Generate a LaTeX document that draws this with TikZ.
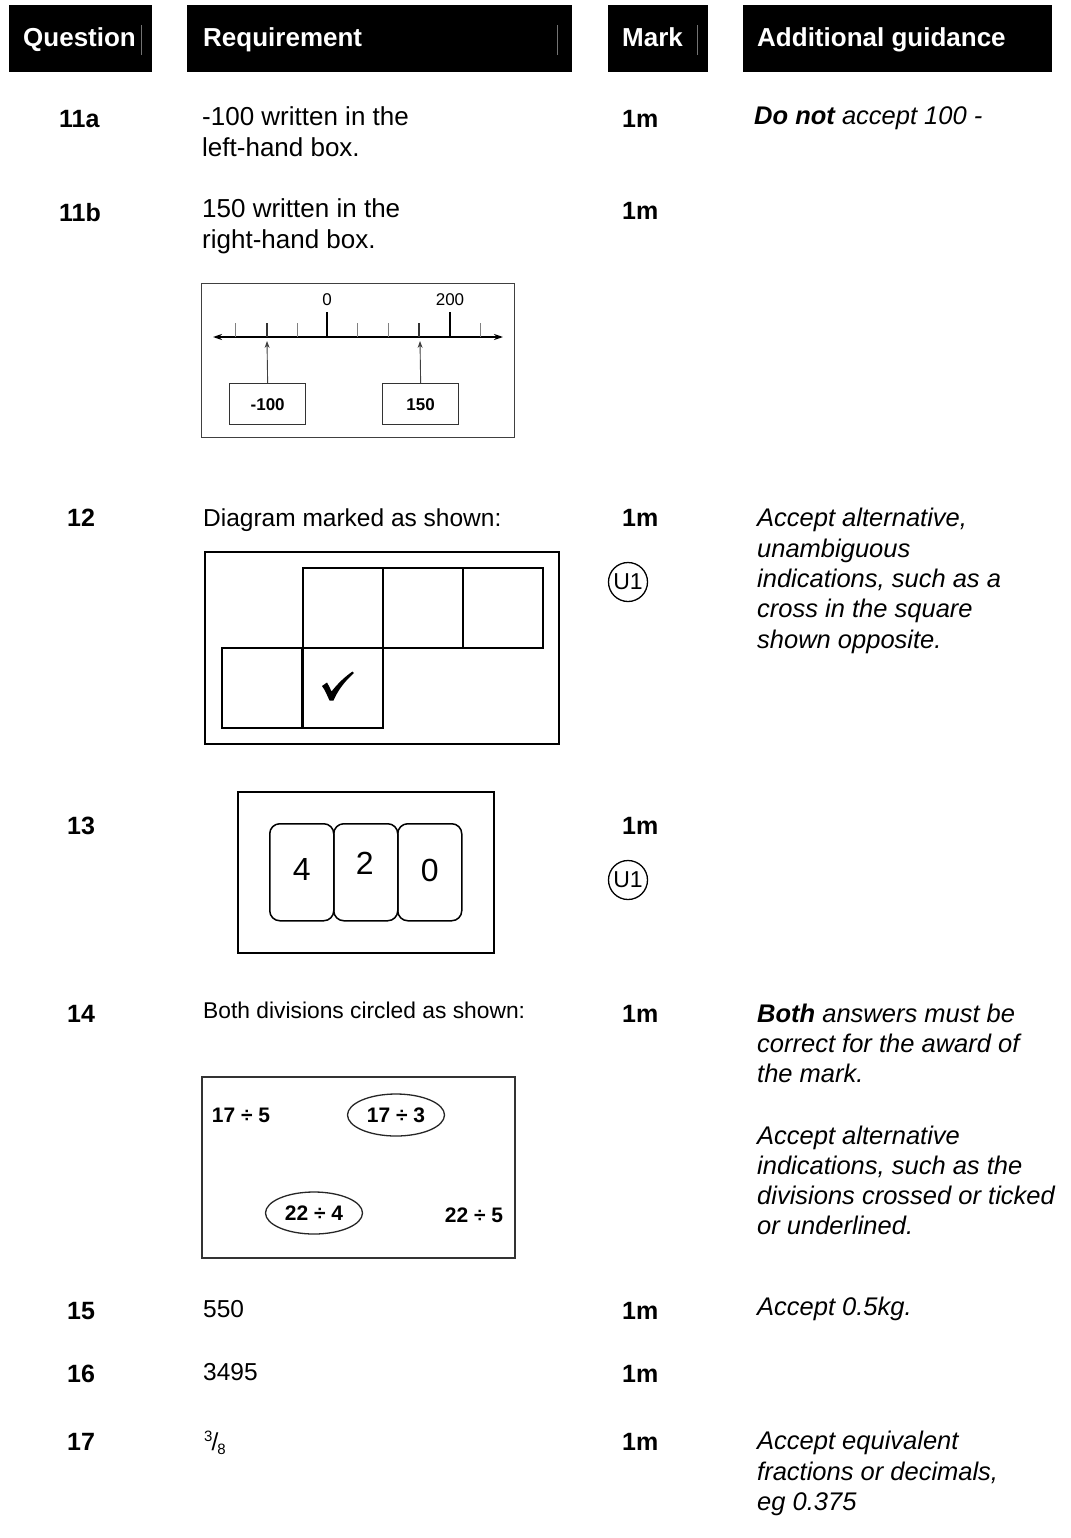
\documentclass[tikz,border=0pt]{standalone}
\usepackage{fontspec}
\setmainfont{Liberation Sans}
\usetikzlibrary{arrows.meta,shapes.geometric}
\begin{document}
\begin{tikzpicture}[x=1pt,y=-1pt,
  hbox/.style={fill=black, draw=none, inner sep=0, anchor=north west, minimum height=67},
  htext/.style={text=white, font=\bfseries\fontsize{26}{30}\selectfont, anchor=base west, inner sep=0},
  qnum/.style={font=\bfseries\fontsize{25}{30}\selectfont, anchor=base west, inner sep=0},
  body/.style={font=\fontsize{24.5}{30}\selectfont, anchor=base west, inner sep=0},
  guide/.style={font=\itshape\fontsize{25.5}{30}\selectfont, anchor=base west, inner sep=0},
  markt/.style={font=\bfseries\fontsize{25}{30}\selectfont, anchor=base west, inner sep=0},
  ucirc/.style={circle, draw, line width=1.3, minimum size=39, inner sep=0, font=\fontsize{23}{23}\selectfont},
  sq/.style={draw, line width=1.8, minimum size=80, inner sep=0, anchor=north west},
  card/.style={draw, line width=1.5, rounded corners=10, minimum width=64, minimum height=97, inner sep=0, anchor=north west},
  digit/.style={font=\fontsize{32}{32}\selectfont, inner sep=0},
  nlbox/.style={draw=black!80, line width=1.3, inner sep=0, anchor=north west, minimum width=62, minimum height=41, font=\bfseries\fontsize{17}{17}\selectfont},
  divt/.style={font=\bfseries\fontsize{21}{21}\selectfont, inner sep=0},
  divell/.style={ellipse, draw=black!85, line width=1.3, minimum width=97, minimum height=42, inner sep=0, font=\bfseries\fontsize{21}{21}\selectfont}
]
\useasboundingbox (0,0) rectangle (1070,1538);
\fill[white] (0,0) rectangle (1070,1538);

% header
\node[hbox, minimum width=143] (hq) at (9,5) {};
\node[hbox, minimum width=385] (hr) at (187,5) {};
\node[hbox, minimum width=100] (hm) at (608,5) {};
\node[hbox, minimum width=309] (ha) at (743,5) {};
\draw[black!55, line width=0.8] (hq.north west) ++(132,20) coordinate (lq1) -- ++(0,30) coordinate (lq2);
\draw[black!55, line width=0.8] (hr.north west) ++(370,20) coordinate (lr1) -- ++(0,30) coordinate (lr2);
\draw[black!55, line width=0.8] (hm.north west) ++(89,20) coordinate (lm1) -- ++(0,30) coordinate (lm2);
\node[htext] (tq) at (23,47) {Question};
\node[htext] (tr) at (203,47) {Requirement};
\node[htext] (tm) at (622,47) {Mark};
\node[htext] (ta) at (757,47) {Additional guidance};

% row 11a
\node[qnum] (n11a) at (59,128) {11a};
\node[body, font=\fontsize{26}{30}\selectfont] (r11a1) at (202,126) {-100 written in the};
\node[body, font=\fontsize{26}{30}\selectfont] (r11a2) at (202,157) {left-hand box.};
\node[markt] (m11a) at (622,128) {1m};
\node[guide] (g11a) at (754,125) {\textbf{Do not} accept 100 -};

% row 11b
\node[qnum] (n11b) at (59,222) {11b};
\node[body, font=\fontsize{26}{30}\selectfont] (r11b1) at (202,218) {150 written in the};
\node[body, font=\fontsize{26}{30}\selectfont] (r11b2) at (202,249) {right-hand box.};
\node[markt] (m11b) at (622,220) {1m};

% number line
\node[draw=black!75, line width=1.3, minimum width=313, minimum height=154, inner sep=0, anchor=north west] (nlframe) at (201,283) {};
\coordinate (axl) at (213,337);
\coordinate (axr) at (503,337);
\draw[line width=1.5, {Stealth[length=9,width=6]}-{Stealth[length=9,width=6]}] (axl) -- (axr);
\foreach \tx in {235,297,357,388,480} {
  \draw[black!50, line width=1] (\tx,323) -- (\tx,337);
}
\foreach \tx in {267,419} {
  \draw[black!80, line width=1.2] (\tx,323) -- (\tx,337);
}
\draw[line width=1.6] (327,312) coordinate (t0) -- (327,337);
\draw[line width=1.6] (450,312) coordinate (t200) -- (450,337);
\node[font=\fontsize{17}{17}\selectfont, inner sep=0] (l0) at (327,300) {0};
\node[font=\fontsize{17}{17}\selectfont, inner sep=0] (l200) at (450,300) {200};
\node[nlbox, minimum width=76] (bm100) at (229,383) {-100};
\node[nlbox, minimum width=76] (b150) at (382,383) {150};
\coordinate (p1) at (267,341);
\coordinate (p2) at (420,341);
\draw[black!75, line width=0.9, -{Stealth[length=7,width=5]}] (bm100.north) -- (p1);
\draw[black!75, line width=0.9, -{Stealth[length=7,width=5]}] (b150.north) -- (p2);

% row 12
\node[qnum] (n12) at (67,526) {12};
\node[body] (r12) at (203,526) {Diagram marked as shown:};
\node[markt] (m12) at (622,526) {1m};
\node[ucirc] (u12) at (628,582) {U1};
\node[guide] (g12a) at (757,526) {Accept alternative,};
\node[guide] (g12b) at (757,557) {unambiguous};
\node[guide] (g12c) at (757,587) {indications, such as a};
\node[guide] (g12d) at (757,617) {cross in the square};
\node[guide] (g12e) at (757,648) {shown opposite.};
\node[draw, line width=2, minimum width=354, minimum height=192, inner sep=0, anchor=north west] (netbox) at (204,551) {};
\node[sq] (s1) at (302,567) {};
\node[sq] (s2) at (382,567) {};
\node[sq] (s3) at (462,567) {};
\node[sq] (s4) at (221,647) {};
\node[sq] (s5) at (302,647) {};
% tick mark drawn as a filled shape
\fill (322,686) .. controls (324,683.5) .. (327,682.5)
  .. controls (329,686) .. (331.5,691.5)
  .. controls (339,682) and (346,676) .. (352.5,671.5)
  -- (354,673)
  .. controls (345,681) and (338,690) .. (333.5,700.5)
  -- (329.5,700.5)
  .. controls (327,695) and (325,690) .. cycle;

% row 13
\node[qnum] (n13) at (67,834) {13};
\node[markt] (m13) at (622,834) {1m};
\node[ucirc] (u13) at (628,880) {U1};
\node[draw, line width=2, minimum width=256, minimum height=161, inner sep=0, anchor=north west] (cardbox) at (237,791) {};
\node[card] (c1) at (269,823) {};
\node[card] (c2) at (333,823) {};
\node[card] (c3) at (397,823) {};
\node[digit] (d4) at ([shift={(0,-3)}]c1.center) {4};
\node[digit] (d2) at ([shift={(-1,-9)}]c2.center) {2};
\node[digit] (d0) at ([shift={(0,-2)}]c3.center) {0};

% row 14
\node[qnum] (n14) at (67,1022) {14};
\node[body, font=\fontsize{22.8}{26}\selectfont] (r14) at (203,1018) {Both divisions circled as shown:};
\node[markt] (m14) at (622,1022) {1m};
\node[guide] (g14a) at (757,1022) {\textbf{Both} answers must be};
\node[guide] (g14b) at (757,1052) {correct for the award of};
\node[guide] (g14c) at (757,1082) {the mark.};
\node[guide] (g14d) at (757,1144) {Accept alternative};
\node[guide] (g14e) at (757,1174) {indications, such as the};
\node[guide] (g14f) at (757,1204) {divisions crossed or ticked};
\node[guide] (g14g) at (757,1234) {or underlined.};
\node[draw=black!80, line width=1.5, minimum width=313, minimum height=181, inner sep=0, anchor=north west] (divbox) at (201,1076) {};
\node[divt] (d175) at (241,1115) {17 ÷ 5};
\node[divell] (d173) at (396,1115) {17 ÷ 3};
\node[divell] (d224) at (314,1213) {22 ÷ 4};
\node[divt] (d225) at (474,1215) {22 ÷ 5};

% row 15
\node[qnum] (n15) at (67,1319) {15};
\node[body] (r15) at (203,1317) {550};
\node[markt] (m15) at (622,1319) {1m};
\node[guide] (g15) at (757,1315) {Accept 0.5kg.};

% row 16
\node[qnum] (n16) at (67,1382) {16};
\node[body] (r16) at (203,1380) {3495};
\node[markt] (m16) at (622,1382) {1m};

% row 17
\node[qnum] (n17) at (67,1450) {17};
\node[body] (r17) at (204,1450) {\raisebox{9pt}{\fontsize{15}{15}\selectfont 3}\kern-1pt/\kern-1pt\raisebox{-4pt}{\fontsize{15}{15}\selectfont 8}};
\node[markt] (m17) at (622,1450) {1m};
\node[guide] (g17a) at (757,1449) {Accept equivalent};
\node[guide] (g17b) at (757,1480) {fractions or decimals,};
\node[guide] (g17c) at (757,1510) {eg 0.375};
\end{tikzpicture}
\end{document}
